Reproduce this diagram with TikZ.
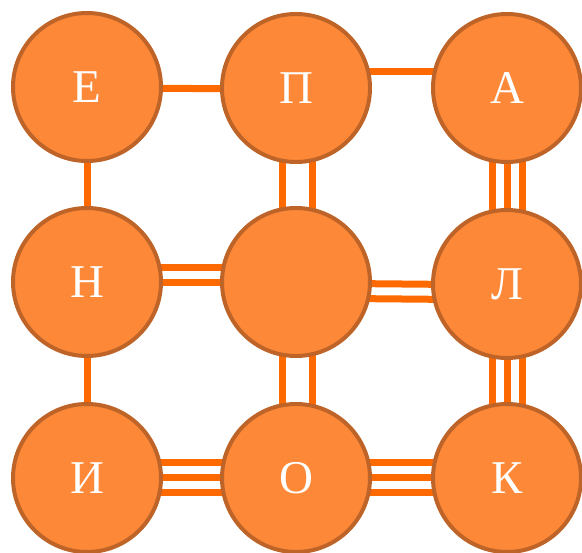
\documentclass[tikz,border=0pt]{standalone}
\usepackage{fontspec}
\usepackage{tikz}
\usetikzlibrary{calc,backgrounds}
\setmainfont{Liberation Serif}
\tikzstyle{puzzle} = [x = 1pt, y = -1pt]
\definecolor{ballFill}{RGB}{253,136,56}
\definecolor{ballEdge}{RGB}{190,100,40}
\definecolor{bondColor}{RGB}{255,106,0}
\tikzstyle{ballStyle} = [circle, draw=ballEdge, fill=ballFill, line width=4pt, minimum size=148pt, inner sep=0pt, text=white, font=\fontsize{47}{47}\selectfont]
\tikzstyle{bondLine} = [color=bondColor, line width=7pt]
\newcommand{\ball}[4]{\node [ballStyle] (#1) at (#2, #3) {#4};}
\newcommand{\hBond}[3]{\draw [bondLine] ($(#1)+(0,#3)$) -- ($(#2)+(0,#3)$);}
\newcommand{\vBond}[3]{\draw [bondLine] ($(#1)+(#3,0)$) -- ($(#2)+(#3,0)$);}
\begin{document}
\begin{tikzpicture}[puzzle]
  \useasboundingbox (0,0) rectangle (582,553);
  \ball{E}{87}{87}{Е}\ball{P}{296}{88}{П}\ball{A}{507}{88}{А}
  \ball{N}{87}{282}{Н}\ball{M}{296}{282}{}\ball{L}{507}{284}{Л}
  \ball{I}{87}{478}{И}\ball{O}{296}{478}{О}\ball{K}{507}{478}{К}
  \begin{scope}[on background layer]
    % single bonds
    \hBond{E}{P}{1}
    \hBond{P}{A}{-16}
    \vBond{E}{N}{0}
    \vBond{N}{I}{0}
    % double bonds
    \foreach \offset in {-14,16} {\vBond{P}{M}{\offset}\vBond{M}{O}{\offset}}
    \foreach \offset in {-14,1} {\hBond{N}{M}{\offset}}
    \foreach \offset in {1,16} {\hBond{M}{L}{\offset}}
    % triple bonds
    \foreach \offset in {-15,0,15} {
      \vBond{A}{L}{\offset}
      \vBond{L}{K}{\offset}
      \hBond{I}{O}{\offset}
      \hBond{O}{K}{\offset}
    }
  \end{scope}
\end{tikzpicture}
\end{document}
